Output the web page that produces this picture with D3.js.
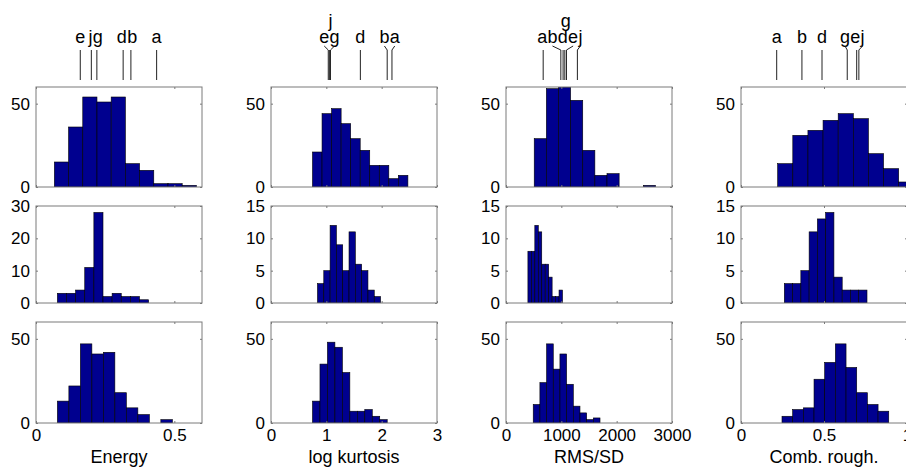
<!DOCTYPE html>
<html>
<head>
<meta charset="utf-8">
<script src="https://cdn.jsdelivr.net/npm/d3@7"></script>
<style>
  body { margin: 0; background: #fff; }
  svg { display: block; font-family: "Liberation Sans", Arial, sans-serif; }
</style>
</head>
<body>
<div id="chart"></div>
<script>
// Chart values
var features = ["Energy", "log kurtosis", "RMS/SD", "Comb. rough."];
var xDomains = [[0, 0.6], [0, 3], [0, 3000], [0, 1]];
var xTicks = [[0, 0.5], [0, 1, 2, 3], [0, 1000, 2000, 3000], [0, 0.5, 1]];

// y limits for each row (row 2 differs for Energy)
var yDomains = [
  [[0, 60], [0, 60], [0, 60], [0, 60]],
  [[0, 30], [0, 15], [0, 15], [0, 15]],
  [[0, 60], [0, 60], [0, 60], [0, 60]]
];
var yTicks = [
  [[0, 50], [0, 50], [0, 50], [0, 50]],
  [[0, 10, 20, 30], [0, 5, 10, 15], [0, 5, 10, 15], [0, 5, 10, 15]],
  [[0, 50], [0, 50], [0, 50], [0, 50]]
];

// histogram ranges [first edge, last edge] and counts, one entry per row
var energyRange = [[0.0664, 0.5797], [0.0773, 0.407], [0.0773, 0.4928]];
var energyCounts = [
  [15, 36, 54, 51, 54, 14, 10, 2, 2, 1],
  [3, 3, 4, 11, 28, 2, 3, 2, 2, 1],
  [13, 22, 47, 41, 42, 18, 9, 5, 0, 2]
];
var kurtRange = [[0.75, 2.474], [0.84, 1.98], [0.75, 2.10]];
var kurtCounts = [
  [21, 44, 47, 38, 29, 22, 13, 13, 5, 7],
  [3, 5, 12, 9, 5, 11, 6, 5, 2, 1],
  [13, 35, 48, 45, 30, 7, 7, 8, 4, 2]
];
var rmsRange = [[510, 2702], [396, 1021], [492, 1699]];
var rmsCounts = [
  [29, 59, 60, 52, 22, 7, 8, 0, 0, 1],
  [8, 8, 12, 11, 6, 6, 4, 1, 1, 2],
  [11, 24, 47, 32, 41, 23, 10, 6, 2, 3]
];
var roughRange = [[0.221, 1.041], [0.261, 0.759], [0.247, 0.890]];
var roughCounts = [
  [14, 31, 34, 40, 44, 41, 20, 11, 3],
  [3, 3, 5, 11, 13, 14, 4, 2, 2, 2],
  [4, 8, 9, 26, 36, 47, 33, 18, 11, 7]
];

// labelled reference values above each column
var markerNames = ["a", "b", "d", "e", "g", "j"];
var energyMarks = [0.436, 0.343, 0.315, 0.160, 0.220, 0.200];
var kurtMarks = [2.186, 2.10, 1.615, 1.035, 1.075, 1.055];
var rmsMarks = [672, 991, 1032, 1093, 1063, 1290];
var roughMarks = [0.215, 0.367, 0.488, 0.697, 0.640, 0.710];

var allRanges = [energyRange, kurtRange, rmsRange, roughRange];
var allCounts = [energyCounts, kurtCounts, rmsCounts, roughCounts];
var allMarks = [energyMarks, kurtMarks, rmsMarks, roughMarks];

// Layout
var svgWidth = 906;
var svgHeight = 467;
var colX = [[36, 202], [271, 437], [506, 672], [741, 907]];
var rowY = [[87, 187], [206, 303], [322, 423]];
var barColor = "#00008f";
var boxColor = "#7a7a7a";
var markFont = 18;

var svg = d3.select("#chart")
  .append("svg")
  .attr("width", svgWidth)
  .attr("height", svgHeight);

features.forEach(function (name, c) {
  var x = d3.scaleLinear().domain(xDomains[c]).range(colX[c]);

  rowY.forEach(function (ry, r) {
    var y = d3.scaleLinear().domain(yDomains[r][c]).range([ry[1], ry[0]]);
    var range = allRanges[c][r];
    var counts = allCounts[c][r];
    var step = (range[1] - range[0]) / counts.length;
    var bins = counts.map(function (n, i) {
      return { x0: range[0] + i * step, x1: range[0] + (i + 1) * step, n: n };
    });

    var clipId = "clip-" + c + "-" + r;
    svg.append("clipPath").attr("id", clipId)
      .append("rect")
      .attr("x", colX[c][0]).attr("y", ry[0])
      .attr("width", colX[c][1] - colX[c][0])
      .attr("height", ry[1] - ry[0]);

    svg.append("g")
      .attr("clip-path", "url(#" + clipId + ")")
      .selectAll("rect")
      .data(bins)
      .join("rect")
      .attr("x", function (d) { return x(d.x0); })
      .attr("y", function (d) { return y(d.n); })
      .attr("width", function (d) { return x(d.x1) - x(d.x0); })
      .attr("height", function (d) { return y(0) - y(d.n); })
      .attr("fill", barColor)
      .attr("stroke", "#000")
      .attr("stroke-width", 0.6);

    // inward ticks on all four sides
    var left = svg.append("g")
      .attr("transform", "translate(" + colX[c][0] + ",0)")
      .call(d3.axisLeft(y).tickValues(yTicks[r][c]).tickSizeInner(-2).tickSizeOuter(0).tickPadding(6));
    var right = svg.append("g")
      .attr("transform", "translate(" + colX[c][1] + ",0)")
      .call(d3.axisRight(y).tickValues(yTicks[r][c]).tickSizeInner(-2).tickSizeOuter(0).tickFormat(""));
    var top = svg.append("g")
      .attr("transform", "translate(0," + ry[0] + ")")
      .call(d3.axisTop(x).tickValues(xTicks[c]).tickSizeInner(-2).tickSizeOuter(0).tickFormat(""));
    var bottom = svg.append("g")
      .attr("transform", "translate(0," + ry[1] + ")")
      .call(d3.axisBottom(x).tickValues(xTicks[c]).tickSizeInner(-2).tickSizeOuter(0).tickPadding(6)
        .tickFormat(r === 2 ? d3.format("") : ""));

    [left, right, top, bottom].forEach(function (g) {
      g.select(".domain").remove();
      g.selectAll("line").attr("stroke", boxColor);
      g.selectAll("text")
        .attr("font-family", "'Liberation Sans', Arial, sans-serif")
        .attr("font-size", 17)
        .attr("fill", "#000");
    });

    svg.append("rect")
      .attr("x", colX[c][0]).attr("y", ry[0])
      .attr("width", colX[c][1] - colX[c][0])
      .attr("height", ry[1] - ry[0])
      .attr("fill", "none")
      .attr("stroke", boxColor)
      .attr("stroke-width", 1);
  });

  // x-axis title
  svg.append("text")
    .attr("x", (colX[c][0] + colX[c][1]) / 2)
    .attr("y", 463)
    .attr("text-anchor", "middle")
    .attr("font-size", 18)
    .text(name);

  // reference markers with spread-out letters
  var marks = markerNames.map(function (m, i) {
    return { name: m, px: x(allMarks[c][i]) };
  }).sort(function (a, b) { return a.px - b.px; });

  var markG = svg.append("g");
  markG.selectAll("line.mark")
    .data(marks)
    .join("line")
    .attr("class", "mark")
    .attr("x1", function (d) { return d.px; })
    .attr("x2", function (d) { return d.px; })
    .attr("y1", 50).attr("y2", 80)
    .attr("stroke", "#222")
    .attr("stroke-width", 1);

  // measure letter widths
  marks.forEach(function (d) {
    var t = markG.append("text").attr("font-size", markFont).text(d.name);
    d.w = t.node().getComputedTextLength();
    d.text = t;
    d.level = 0;
  });

  // tight clusters of 3+ lines: lift the middle letter up a row
  var clusters = [];
  marks.forEach(function (d, i) {
    if (i > 0 && d.px - marks[i - 1].px < 4) clusters[clusters.length - 1].push(d);
    else clusters.push([d]);
  });
  clusters.forEach(function (cl) {
    if (cl.length >= 3) cl[Math.floor(cl.length / 2)].level = 1;
  });

  // spread the letters of the base row so they do not overlap
  var pad = 0.3;
  function width(b) {
    return d3.sum(b.items, function (d) { return d.w + pad; });
  }
  function place(b) {
    var off = 0;
    var starts = b.items.map(function (d) {
      var s = d.px - (off + (d.w + pad) / 2);
      off += d.w + pad;
      return s;
    });
    b.start = d3.mean(starts);
  }
  var row = marks.filter(function (d) { return d.level === 0; });
  var blocks = [];
  row.forEach(function (d) {
    var b = { items: [d] };
    blocks.push(b);
    place(b);
    while (blocks.length > 1) {
      var prev = blocks[blocks.length - 2];
      var last = blocks[blocks.length - 1];
      if (prev.start + width(prev) > last.start) {
        prev.items = prev.items.concat(last.items);
        blocks.pop();
        place(prev);
      } else break;
    }
  });
  blocks.forEach(function (b) {
    var pos = b.start;
    b.items.forEach(function (d) {
      d.lx = pos + (d.w + pad) / 2;
      pos += d.w + pad;
    });
  });
  marks.forEach(function (d) {
    if (d.level === 1) d.lx = d.px + 1;
  });

  marks.forEach(function (d) {
    d.text
      .attr("x", d.lx)
      .attr("y", d.level === 0 ? 43 : 27)
      .attr("text-anchor", "middle");
  });

  markG.selectAll("line.lead")
    .data(marks.filter(function (d) { return Math.abs(d.lx - d.px) > 1.5; }))
    .join("line")
    .attr("class", "lead")
    .attr("x1", function (d) { return d.px; })
    .attr("y1", 50)
    .attr("x2", function (d) { return d.lx; })
    .attr("y2", 46)
    .attr("stroke", "#222")
    .attr("stroke-width", 1);
});
</script>
</body>
</html>
